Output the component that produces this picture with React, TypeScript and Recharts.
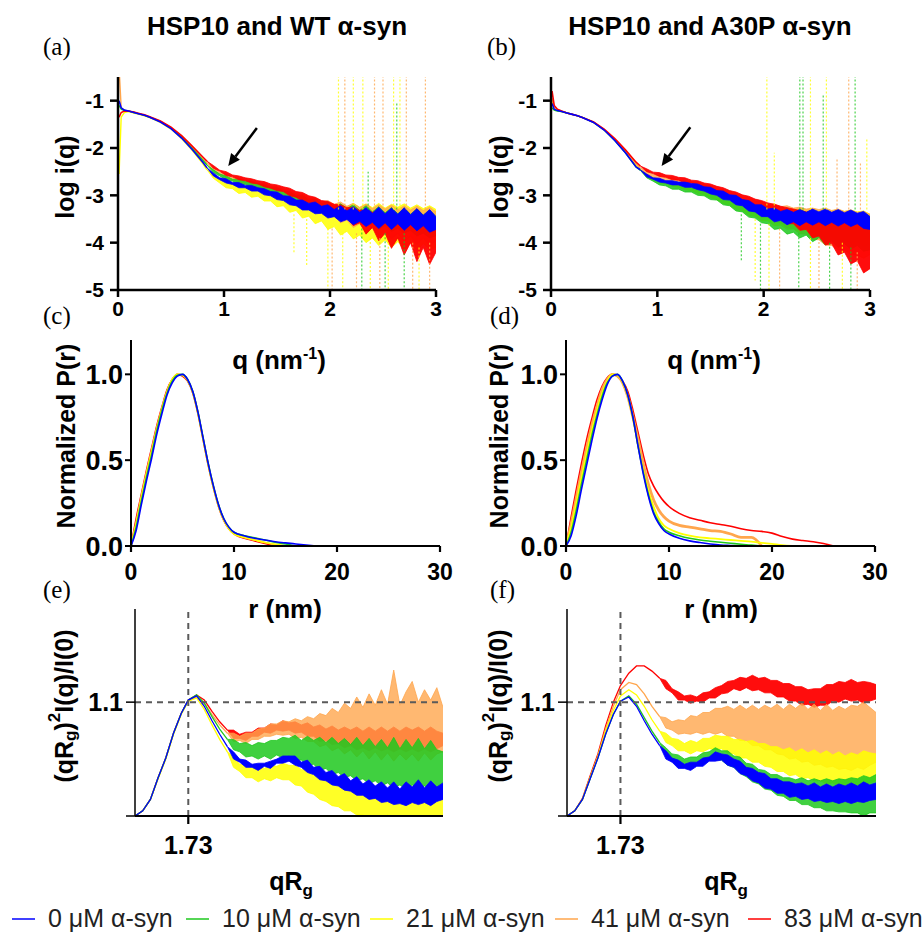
import React from 'react';
import { ComposedChart, Line, Area, XAxis, YAxis, ReferenceLine } from 'recharts';

const SANS = "'Liberation Sans', Arial, Helvetica, sans-serif";
const SERIF = "'Liberation Serif', 'Times New Roman', serif";

// legend / series
const SERIES_KEYS = ['c0', 'c10', 'c21', 'c41', 'c83'];
const SERIES_NAMES = ['0 μM α-syn', '10 μM α-syn', '21 μM α-syn', '41 μM α-syn', '83 μM α-syn'];
const SERIES_COLORS = ['#0000ff', '#1ec81e', '#ffff00', '#ffa64d', '#ff0000'];
const BAND_OPACITY = [1, 0.85, 0.85, 0.8, 0.95];

// ---------- (a)/(b): log i(q) vs q ----------
// smooth part (13 pts) followed by the noisy part (37 pts, from 0.84)
const Q_GRID = [
  0.01, 0.03, 0.06, 0.1, 0.15, 0.2, 0.25, 0.3, 0.4, 0.5, 0.6, 0.7, 0.8,
  0.84, 0.9, 0.96, 1.02, 1.08, 1.14, 1.2, 1.26, 1.32, 1.38,
  1.44, 1.5, 1.56, 1.62, 1.68, 1.74, 1.8, 1.86, 1.92, 1.98,
  2.04, 2.1, 2.16, 2.22, 2.28, 2.34, 2.4, 2.46, 2.52, 2.58,
  2.64, 2.7, 2.76, 2.82, 2.88, 2.94, 3.0,
];
const Q_BAND_START = 13;

// low-q curves
const WT_LOG_0 = [-1.0, -1.15, -1.2, -1.22, -1.25, -1.28, -1.31, -1.35, -1.45, -1.59, -1.79, -2.03, -2.3, -2.42];
const WT_LOG_10 = [-1.1, -1.18, -1.21, -1.22, -1.25, -1.28, -1.31, -1.35, -1.44, -1.58, -1.77, -2.01, -2.26, -2.36];
const WT_LOG_21 = [-2.55, -1.35, -1.25, -1.23, -1.26, -1.29, -1.32, -1.36, -1.46, -1.6, -1.8, -2.05, -2.33, -2.46];
const WT_LOG_41 = [-0.3, -1.15, -1.2, -1.22, -1.25, -1.28, -1.31, -1.35, -1.44, -1.57, -1.76, -1.99, -2.23, -2.32];
const WT_LOG_83 = [-1.35, -1.25, -1.22, -1.22, -1.24, -1.27, -1.3, -1.34, -1.43, -1.56, -1.74, -1.96, -2.19, -2.28];

// noisy spread (upper / lower edge) from q = 0.84
const WT_HI_0 = [
  -2.42, -2.53, -2.63, -2.65, -2.73, -2.73, -2.79, -2.79, -2.84, -2.86,
  -2.92, -2.93, -3.01, -3.02, -3.1, -3.1, -3.17, -3.14, -3.23, -3.2,
  -3.3, -3.22, -3.33, -3.24, -3.36, -3.26, -3.38, -3.25, -3.39, -3.27,
  -3.4, -3.26, -3.41, -3.28, -3.42, -3.3, -3.45,
];
const WT_LO_0 = [
  -2.42, -2.59, -2.67, -2.74, -2.77, -2.84, -2.84, -2.91, -2.91, -2.99,
  -3.01, -3.09, -3.11, -3.2, -3.22, -3.31, -3.31, -3.39, -3.38, -3.48,
  -3.45, -3.56, -3.51, -3.62, -3.55, -3.66, -3.57, -3.7, -3.58, -3.72,
  -3.6, -3.74, -3.62, -3.75, -3.64, -3.78, -3.72,
];
const WT_HI_10 = [
  -2.36, -2.46, -2.55, -2.59, -2.66, -2.66, -2.71, -2.71, -2.76, -2.78,
  -2.84, -2.84, -2.92, -2.92, -3.01, -3.0, -3.1, -3.08, -3.17, -3.14,
  -3.24, -3.18, -3.28, -3.2, -3.32, -3.22, -3.35, -3.24, -3.37, -3.26,
  -3.39, -3.27, -3.4, -3.29, -3.42, -3.32, -3.45,
];
const WT_LO_10 = [
  -2.36, -2.52, -2.59, -2.67, -2.7, -2.77, -2.77, -2.84, -2.84, -2.91,
  -2.92, -3.01, -3.02, -3.13, -3.12, -3.24, -3.22, -3.35, -3.32, -3.44,
  -3.41, -3.53, -3.49, -3.6, -3.55, -3.66, -3.6, -3.72, -3.64, -3.76,
  -3.7, -3.8, -3.74, -3.86, -3.8, -3.9, -3.85,
];
const WT_HI_21 = [
  -2.46, -2.57, -2.67, -2.7, -2.76, -2.77, -2.81, -2.82, -2.87, -2.88,
  -2.94, -2.95, -3.02, -3.03, -3.1, -3.1, -3.16, -3.14, -3.2, -3.17,
  -3.23, -3.18, -3.24, -3.17, -3.25, -3.18, -3.26, -3.17, -3.27, -3.19,
  -3.25, -3.18, -3.27, -3.2, -3.28, -3.22, -3.3,
];
const WT_LO_21 = [
  -2.46, -2.64, -2.74, -2.84, -2.86, -2.96, -2.94, -3.04, -3.02, -3.12,
  -3.12, -3.24, -3.22, -3.36, -3.32, -3.48, -3.44, -3.6, -3.54, -3.72,
  -3.66, -3.84, -3.76, -3.92, -3.84, -4.0, -3.9, -4.06, -3.94, -4.1,
  -3.98, -4.14, -4.0, -4.16, -4.02, -4.14, -4.1,
];
const WT_HI_41 = [
  -2.32, -2.42, -2.51, -2.55, -2.62, -2.64, -2.68, -2.69, -2.74, -2.75,
  -2.81, -2.82, -2.88, -2.89, -2.97, -2.98, -3.06, -3.05, -3.13, -3.11,
  -3.19, -3.14, -3.23, -3.17, -3.26, -3.19, -3.28, -3.2, -3.29, -3.21,
  -3.3, -3.22, -3.31, -3.23, -3.32, -3.25, -3.35,
];
const WT_LO_41 = [
  -2.32, -2.48, -2.55, -2.63, -2.67, -2.73, -2.75, -2.8, -2.82, -2.88,
  -2.91, -2.98, -3.0, -3.09, -3.11, -3.21, -3.22, -3.34, -3.33, -3.46,
  -3.43, -3.58, -3.52, -3.68, -3.6, -3.78, -3.68, -3.86, -3.74, -3.92,
  -3.8, -3.98, -3.86, -4.04, -3.9, -4.08, -3.95,
];
const WT_HI_83 = [
  -2.28, -2.37, -2.47, -2.5, -2.57, -2.59, -2.63, -2.65, -2.69, -2.71,
  -2.76, -2.78, -2.82, -2.85, -2.92, -2.94, -3.01, -3.04, -3.11, -3.13,
  -3.19, -3.2, -3.26, -3.25, -3.32, -3.3, -3.36, -3.34, -3.41, -3.38,
  -3.45, -3.42, -3.5, -3.47, -3.56, -3.52, -3.62,
];
const WT_LO_83 = [
  -2.28, -2.43, -2.49, -2.58, -2.61, -2.67, -2.69, -2.74, -2.76, -2.82,
  -2.85, -2.9, -2.92, -3.01, -3.04, -3.12, -3.16, -3.25, -3.28, -3.37,
  -3.38, -3.5, -3.47, -3.64, -3.58, -3.82, -3.68, -3.96, -3.8, -4.12,
  -3.9, -4.26, -4.0, -4.4, -4.1, -4.46, -4.2,
];

const A30P_LOG_0 = [-1.06, -1.18, -1.21, -1.23, -1.26, -1.29, -1.32, -1.36, -1.46, -1.62, -1.84, -2.1, -2.4, -2.46];
const A30P_LOG_10 = [-1.15, -1.2, -1.22, -1.23, -1.26, -1.29, -1.32, -1.36, -1.46, -1.62, -1.84, -2.1, -2.4, -2.47];
const A30P_LOG_21 = [-1.0, -1.17, -1.21, -1.23, -1.26, -1.29, -1.32, -1.36, -1.46, -1.62, -1.83, -2.08, -2.37, -2.45];
const A30P_LOG_41 = [-0.95, -1.13, -1.19, -1.22, -1.26, -1.29, -1.32, -1.36, -1.45, -1.61, -1.82, -2.07, -2.34, -2.42];
const A30P_LOG_83 = [-0.8, -1.1, -1.18, -1.22, -1.26, -1.29, -1.32, -1.36, -1.45, -1.6, -1.8, -2.04, -2.3, -2.38];

const A30P_HI_0 = [
  -2.46, -2.55, -2.63, -2.64, -2.69, -2.69, -2.72, -2.72, -2.75, -2.76,
  -2.82, -2.83, -2.9, -2.91, -2.99, -3.0, -3.09, -3.11, -3.2, -3.2,
  -3.29, -3.27, -3.34, -3.3, -3.36, -3.3, -3.36, -3.29, -3.35, -3.29,
  -3.36, -3.3, -3.37, -3.31, -3.38, -3.34, -3.45,
];
const A30P_LO_0 = [
  -2.46, -2.61, -2.66, -2.72, -2.74, -2.78, -2.78, -2.83, -2.83, -2.88,
  -2.91, -2.97, -3.0, -3.09, -3.1, -3.2, -3.22, -3.33, -3.35, -3.45,
  -3.45, -3.56, -3.53, -3.62, -3.56, -3.64, -3.56, -3.63, -3.56, -3.64,
  -3.57, -3.65, -3.58, -3.66, -3.6, -3.7, -3.72,
];
const A30P_HI_10 = [
  -2.47, -2.57, -2.65, -2.68, -2.73, -2.74, -2.78, -2.79, -2.84, -2.85,
  -2.9, -2.92, -2.98, -3.0, -3.07, -3.09, -3.16, -3.18, -3.24, -3.24,
  -3.3, -3.27, -3.33, -3.28, -3.35, -3.3, -3.36, -3.31, -3.37, -3.32,
  -3.38, -3.33, -3.39, -3.34, -3.4, -3.36, -3.45,
];
const A30P_LO_10 = [
  -2.47, -2.63, -2.7, -2.78, -2.8, -2.87, -2.87, -2.93, -2.93, -3.0,
  -3.01, -3.09, -3.1, -3.2, -3.22, -3.33, -3.35, -3.46, -3.48, -3.58,
  -3.6, -3.72, -3.7, -3.82, -3.78, -3.9, -3.84, -3.98, -3.9, -4.05,
  -3.96, -4.1, -4.02, -4.14, -4.06, -4.18, -4.15,
];
const A30P_HI_21 = [
  -2.45, -2.54, -2.62, -2.65, -2.7, -2.7, -2.75, -2.75, -2.8, -2.81,
  -2.87, -2.88, -2.95, -2.97, -3.03, -3.06, -3.12, -3.14, -3.2, -3.21,
  -3.26, -3.24, -3.29, -3.26, -3.3, -3.27, -3.31, -3.28, -3.32, -3.29,
  -3.33, -3.3, -3.34, -3.31, -3.35, -3.33, -3.4,
];
const A30P_LO_21 = [
  -2.45, -2.61, -2.67, -2.74, -2.76, -2.81, -2.83, -2.88, -2.9, -2.96,
  -2.99, -3.05, -3.09, -3.17, -3.2, -3.3, -3.32, -3.42, -3.44, -3.54,
  -3.54, -3.64, -3.63, -3.72, -3.71, -3.8, -3.78, -3.88, -3.84, -3.92,
  -3.88, -3.98, -3.94, -4.02, -3.98, -4.08, -4.05,
];
const A30P_HI_41 = [
  -2.42, -2.49, -2.56, -2.58, -2.63, -2.63, -2.68, -2.68, -2.72, -2.73,
  -2.78, -2.8, -2.86, -2.88, -2.95, -2.96, -3.04, -3.05, -3.12, -3.13,
  -3.19, -3.18, -3.24, -3.22, -3.27, -3.25, -3.29, -3.27, -3.3, -3.27,
  -3.32, -3.29, -3.34, -3.31, -3.36, -3.34, -3.4,
];
const A30P_LO_41 = [
  -2.42, -2.56, -2.61, -2.67, -2.69, -2.74, -2.75, -2.79, -2.81, -2.86,
  -2.89, -2.95, -2.98, -3.06, -3.1, -3.18, -3.22, -3.32, -3.35, -3.44,
  -3.46, -3.57, -3.58, -3.69, -3.7, -3.81, -3.82, -3.93, -3.94, -4.05,
  -4.06, -4.15, -4.16, -4.25, -4.26, -4.33, -4.25,
];
const A30P_HI_83 = [
  -2.38, -2.44, -2.51, -2.52, -2.57, -2.58, -2.62, -2.63, -2.68, -2.69,
  -2.74, -2.76, -2.81, -2.84, -2.9, -2.93, -2.99, -3.02, -3.08, -3.11,
  -3.16, -3.19, -3.23, -3.26, -3.29, -3.32, -3.35, -3.37, -3.39, -3.41,
  -3.44, -3.46, -3.49, -3.51, -3.55, -3.57, -3.65,
];
const A30P_LO_83 = [
  -2.38, -2.5, -2.54, -2.6, -2.62, -2.67, -2.68, -2.74, -2.74, -2.8,
  -2.83, -2.88, -2.92, -2.98, -3.03, -3.09, -3.14, -3.21, -3.26, -3.33,
  -3.36, -3.47, -3.48, -3.6, -3.6, -3.74, -3.72, -3.9, -3.86, -4.05,
  -4.02, -4.26, -4.2, -4.45, -4.38, -4.64, -4.55,
];

// outliers: [q, from, to]
const WT_SPIKES_10 = [[2.63, -3.3, -1.05], [2.36, -3.3, -2.5], [2.3, -3.7, -5.5], [2.52, -3.8, -5.5], [2.7, -3.8, -5.5]];
const WT_SPIKES_21 = [
  [2.08, -3.3, -0.3], [2.22, -3.3, -0.3], [2.31, -3.3, -0.3], [2.6, -3.3, -0.3], [2.66, -3.3, -0.3],
  [1.66, -3.4, -4.2], [1.78, -3.5, -4.5], [1.98, -3.7, -5.5], [2.12, -3.8, -5.5], [2.38, -3.9, -5.5],
  [2.55, -4.0, -5.5], [2.84, -4.1, -5.5],
];
const WT_SPIKES_41 = [
  [2.14, -3.3, -0.3], [2.42, -3.3, -0.3], [2.5, -3.3, -0.3], [2.72, -3.3, -0.3], [2.9, -3.3, -0.3],
  [2.02, -3.7, -5.5], [2.25, -3.8, -5.5], [2.47, -3.9, -5.5], [2.78, -4.0, -5.5], [2.94, -4.0, -5.5],
];
const A30P_SPIKES_10 = [
  [2.34, -3.3, -0.3], [2.37, -3.3, -0.3], [2.56, -3.3, -0.85], [2.86, -3.3, -0.3],
  [1.79, -3.4, -4.4], [1.97, -3.6, -5.5], [2.33, -3.8, -5.5], [2.62, -4.0, -5.5], [2.82, -4.1, -5.5],
];
const A30P_SPIKES_21 = [
  [2.03, -3.3, -0.3], [2.1, -3.3, -2.1], [2.44, -3.3, -0.3], [2.59, -3.3, -0.3], [2.97, -3.3, -1.8],
  [1.92, -3.5, -4.8], [2.05, -3.6, -5.5], [2.44, -3.9, -5.5], [2.74, -4.0, -5.5],
];
const A30P_SPIKES_41 = [
  [2.8, -3.3, -0.3], [2.69, -3.3, -2.2], [2.91, -3.3, -2.3], [2.15, -3.7, -5.5], [2.52, -3.9, -5.5], [2.88, -4.2, -5.5],
];

// ---------- (c)/(d): normalized P(r) ----------
const R_GRID = [
  0, 0.5, 1, 1.5, 2, 2.5, 3, 3.5, 4, 4.5, 5, 5.5, 6, 6.5, 7, 7.5, 8, 8.5, 9, 9.5,
  10, 11, 12, 13, 14, 15, 16, 17, 18, 19, 20, 21, 22, 23, 24, 25, 26,
];
const WT_PR_0 = [0, 0.09, 0.24, 0.38, 0.51, 0.65, 0.77, 0.88, 0.95, 0.99, 1.0, 0.97, 0.9, 0.78, 0.63, 0.48, 0.35, 0.24, 0.16, 0.11, 0.08, 0.06, 0.045, 0.035, 0.025, 0.018, 0.012, 0.006, 0];
const WT_PR_10 = [0, 0.11, 0.26, 0.4, 0.53, 0.67, 0.79, 0.89, 0.96, 0.995, 1.0, 0.97, 0.9, 0.78, 0.63, 0.48, 0.35, 0.24, 0.16, 0.11, 0.08, 0.06, 0.048, 0.035, 0.022, 0.012, 0];
const WT_PR_21 = [0, 0.13, 0.28, 0.42, 0.55, 0.68, 0.8, 0.9, 0.97, 1.0, 0.995, 0.965, 0.895, 0.775, 0.625, 0.475, 0.345, 0.235, 0.155, 0.1, 0.07, 0.05, 0.035, 0.02, 0.01, 0];
const WT_PR_41 = [0, 0.14, 0.29, 0.43, 0.56, 0.69, 0.8, 0.9, 0.97, 1.0, 0.995, 0.965, 0.895, 0.775, 0.62, 0.47, 0.34, 0.23, 0.15, 0.1, 0.07, 0.05, 0.035, 0.02, 0.008, 0];
const WT_PR_83 = [0, 0.16, 0.3, 0.44, 0.57, 0.7, 0.81, 0.91, 0.97, 1.0, 0.99, 0.96, 0.89, 0.77, 0.62, 0.47, 0.34, 0.23, 0.15, 0.1, 0.07, 0.045, 0.03, 0.015, 0];

const A30P_PR_0 = [0, 0.06, 0.18, 0.33, 0.47, 0.61, 0.74, 0.85, 0.94, 0.99, 1.0, 0.96, 0.88, 0.75, 0.58, 0.42, 0.29, 0.19, 0.13, 0.09, 0.07, 0.045, 0.03, 0.02, 0.012, 0.006, 0.003, 0];
const A30P_PR_10 = [0, 0.08, 0.21, 0.36, 0.5, 0.64, 0.76, 0.87, 0.95, 0.99, 1.0, 0.96, 0.88, 0.75, 0.58, 0.43, 0.3, 0.2, 0.14, 0.1, 0.08, 0.06, 0.045, 0.035, 0.028, 0.022, 0.016, 0.01, 0.005, 0];
const A30P_PR_21 = [0, 0.11, 0.25, 0.4, 0.54, 0.67, 0.79, 0.89, 0.96, 1.0, 0.995, 0.955, 0.875, 0.745, 0.585, 0.44, 0.32, 0.23, 0.16, 0.12, 0.1, 0.075, 0.06, 0.05, 0.045, 0.04, 0.035, 0.03, 0.025, 0.018, 0.012, 0.005, 0];
const A30P_PR_41 = [0, 0.13, 0.28, 0.43, 0.57, 0.7, 0.81, 0.91, 0.97, 1.0, 0.99, 0.95, 0.87, 0.75, 0.62, 0.48, 0.36, 0.27, 0.21, 0.17, 0.145, 0.12, 0.11, 0.1, 0.09, 0.085, 0.07, 0.05, 0.05, 0];
const A30P_PR_83 = [0, 0.17, 0.33, 0.48, 0.62, 0.74, 0.85, 0.93, 0.98, 1.0, 0.99, 0.96, 0.9, 0.79, 0.66, 0.53, 0.42, 0.35, 0.3, 0.26, 0.23, 0.19, 0.165, 0.15, 0.135, 0.125, 0.115, 0.1, 0.09, 0.085, 0.075, 0.055, 0.04, 0.032, 0.025, 0.015, 0];

// ---------- (e)/(f): dimensionless Kratky ----------
const QRG_GRID = [
  0, 0.25, 0.5, 0.75, 1.0, 1.25, 1.5, 1.73, 2.0, 2.25, 2.5, 2.75,
  3.0, 3.2, 3.4, 3.6, 3.8, 4.0, 4.2, 4.4, 4.6, 4.8,
  5.0, 5.2, 5.4, 5.6, 5.8, 6.0, 6.2, 6.4, 6.6, 6.8,
  7.0, 7.2, 7.4, 7.6, 7.8, 8.0, 8.2, 8.4, 8.6, 8.8,
  9.0, 9.2, 9.4, 9.6, 9.8, 10.0,
];
const QRG_BAND_START = 12;

const WT_KR_0 = [0, 0.05, 0.16, 0.37, 0.56, 0.8, 0.99, 1.12, 1.16, 1.06, 0.92, 0.79, 0.67];
const WT_KR_10 = [0, 0.05, 0.16, 0.37, 0.56, 0.8, 0.99, 1.12, 1.17, 1.09, 0.96, 0.84, 0.74];
const WT_KR_21 = [0, 0.05, 0.16, 0.36, 0.55, 0.79, 0.98, 1.11, 1.14, 1.03, 0.88, 0.74, 0.62];
const WT_KR_41 = [0, 0.05, 0.16, 0.37, 0.56, 0.8, 0.99, 1.11, 1.15, 1.09, 0.98, 0.88, 0.8];
const WT_KR_83 = [0, 0.05, 0.16, 0.37, 0.56, 0.8, 0.99, 1.12, 1.17, 1.12, 1.01, 0.91, 0.83];

const WT_KHI_0 = [
  0.67, 0.62, 0.55, 0.54, 0.5, 0.51, 0.51, 0.53, 0.55, 0.58,
  0.58, 0.58, 0.52, 0.54, 0.47, 0.48, 0.42, 0.44, 0.38, 0.41,
  0.34, 0.38, 0.31, 0.35, 0.29, 0.33, 0.27, 0.33, 0.26, 0.33,
  0.28, 0.35, 0.27, 0.34, 0.28, 0.32,
];
const WT_KLO_0 = [
  0.67, 0.55, 0.52, 0.47, 0.47, 0.44, 0.48, 0.46, 0.51, 0.51,
  0.53, 0.49, 0.47, 0.42, 0.4, 0.35, 0.34, 0.3, 0.29, 0.25,
  0.24, 0.2, 0.2, 0.16, 0.17, 0.13, 0.14, 0.11, 0.12, 0.1,
  0.13, 0.11, 0.13, 0.1, 0.14, 0.16,
];
const WT_KHI_10 = [
  0.74, 0.74, 0.7, 0.71, 0.68, 0.71, 0.7, 0.73, 0.73, 0.76,
  0.75, 0.78, 0.73, 0.77, 0.73, 0.76, 0.71, 0.76, 0.7, 0.75,
  0.69, 0.76, 0.68, 0.75, 0.67, 0.74, 0.66, 0.76, 0.65, 0.74,
  0.66, 0.75, 0.65, 0.73, 0.64, 0.62,
];
const WT_KLO_10 = [
  0.74, 0.64, 0.62, 0.57, 0.58, 0.55, 0.58, 0.55, 0.59, 0.56,
  0.58, 0.54, 0.54, 0.49, 0.5, 0.44, 0.46, 0.4, 0.42, 0.37,
  0.39, 0.34, 0.36, 0.31, 0.34, 0.29, 0.32, 0.27, 0.3, 0.26,
  0.3, 0.25, 0.29, 0.24, 0.28, 0.32,
];
const WT_KHI_21 = [
  0.62, 0.57, 0.5, 0.5, 0.47, 0.48, 0.46, 0.49, 0.48, 0.51,
  0.49, 0.49, 0.45, 0.44, 0.4, 0.39, 0.35, 0.35, 0.32, 0.32,
  0.29, 0.3, 0.26, 0.28, 0.25, 0.27, 0.23, 0.26, 0.22, 0.25,
  0.22, 0.26, 0.21, 0.25, 0.21, 0.22,
];
const WT_KLO_21 = [
  0.62, 0.47, 0.43, 0.37, 0.37, 0.33, 0.36, 0.34, 0.37, 0.35,
  0.35, 0.3, 0.29, 0.23, 0.21, 0.16, 0.14, 0.1, 0.09, 0.05,
  0.05, 0.01, 0.01, -0.02, 0.0, -0.02, 0.01, -0.02, 0.0, -0.02,
  0.0, -0.02, 0.0, -0.02, 0.0, 0.0,
];
const WT_KHI_41 = [
  0.8, 0.8, 0.77, 0.8, 0.8, 0.84, 0.85, 0.89, 0.89, 0.92,
  0.91, 0.94, 0.92, 0.96, 0.94, 0.99, 0.97, 1.04, 1.0, 1.09,
  1.04, 1.15, 1.05, 1.18, 1.07, 1.22, 1.08, 1.41, 1.07, 1.2,
  1.3, 1.1, 1.22, 1.12, 1.24, 1.05,
];
const WT_KLO_41 = [
  0.8, 0.72, 0.73, 0.7, 0.74, 0.74, 0.77, 0.77, 0.79, 0.78,
  0.79, 0.75, 0.76, 0.72, 0.72, 0.67, 0.69, 0.63, 0.66, 0.6,
  0.64, 0.57, 0.63, 0.55, 0.62, 0.54, 0.61, 0.53, 0.6, 0.54,
  0.6, 0.53, 0.61, 0.54, 0.6, 0.62,
];
const WT_KHI_83 = [
  0.83, 0.83, 0.79, 0.81, 0.81, 0.85, 0.85, 0.89, 0.88, 0.92,
  0.9, 0.91, 0.88, 0.9, 0.86, 0.88, 0.84, 0.87, 0.83, 0.86,
  0.83, 0.86, 0.82, 0.86, 0.82, 0.86, 0.82, 0.86, 0.82, 0.86,
  0.83, 0.86, 0.82, 0.86, 0.82, 0.8,
];
const WT_KLO_83 = [
  0.83, 0.75, 0.75, 0.73, 0.77, 0.77, 0.81, 0.8, 0.83, 0.82,
  0.83, 0.8, 0.81, 0.77, 0.77, 0.72, 0.73, 0.69, 0.7, 0.66,
  0.68, 0.64, 0.66, 0.63, 0.66, 0.63, 0.65, 0.62, 0.65, 0.62,
  0.65, 0.62, 0.65, 0.62, 0.65, 0.68,
];

const A30P_KR_0 = [0, 0.05, 0.16, 0.36, 0.56, 0.79, 0.98, 1.11, 1.15, 1.06, 0.92, 0.79, 0.68];
const A30P_KR_10 = [0, 0.05, 0.16, 0.36, 0.56, 0.79, 0.98, 1.11, 1.16, 1.08, 0.95, 0.82, 0.71];
const A30P_KR_21 = [0, 0.05, 0.16, 0.37, 0.57, 0.82, 1.02, 1.16, 1.22, 1.17, 1.06, 0.93, 0.82];
const A30P_KR_41 = [0, 0.05, 0.16, 0.37, 0.58, 0.84, 1.06, 1.22, 1.29, 1.27, 1.18, 1.06, 0.96];
const A30P_KR_83 = [0, 0.05, 0.17, 0.39, 0.6, 0.87, 1.1, 1.26, 1.38, 1.45, 1.45, 1.4, 1.33];

const A30P_KHI_0 = [
  0.68, 0.63, 0.56, 0.54, 0.5, 0.52, 0.52, 0.56, 0.57, 0.62,
  0.6, 0.59, 0.55, 0.53, 0.47, 0.46, 0.42, 0.41, 0.36, 0.36,
  0.33, 0.33, 0.31, 0.32, 0.29, 0.32, 0.28, 0.31, 0.28, 0.31,
  0.29, 0.32, 0.29, 0.33, 0.3, 0.32,
];
const A30P_KLO_0 = [
  0.68, 0.55, 0.52, 0.46, 0.46, 0.44, 0.48, 0.48, 0.53, 0.53,
  0.54, 0.49, 0.47, 0.41, 0.39, 0.34, 0.32, 0.27, 0.26, 0.22,
  0.22, 0.18, 0.19, 0.16, 0.17, 0.14, 0.15, 0.13, 0.14, 0.12,
  0.14, 0.12, 0.14, 0.13, 0.15, 0.16,
];
const A30P_KHI_10 = [
  0.71, 0.66, 0.6, 0.59, 0.55, 0.57, 0.57, 0.61, 0.62, 0.66,
  0.63, 0.63, 0.58, 0.57, 0.51, 0.5, 0.45, 0.44, 0.4, 0.4,
  0.37, 0.37, 0.35, 0.37, 0.34, 0.36, 0.34, 0.36, 0.34, 0.36,
  0.35, 0.37, 0.36, 0.39, 0.37, 0.4,
];
const A30P_KLO_10 = [
  0.71, 0.57, 0.54, 0.49, 0.49, 0.47, 0.51, 0.5, 0.54, 0.54,
  0.54, 0.49, 0.47, 0.41, 0.38, 0.33, 0.31, 0.26, 0.25, 0.2,
  0.19, 0.15, 0.15, 0.11, 0.11, 0.08, 0.08, 0.05, 0.05, 0.04,
  0.04, 0.03, 0.03, 0.0, 0.03, 0.03,
];
const A30P_KHI_21 = [
  0.82, 0.8, 0.75, 0.74, 0.7, 0.73, 0.71, 0.75, 0.75, 0.78,
  0.77, 0.77, 0.74, 0.74, 0.72, 0.73, 0.7, 0.7, 0.67, 0.67,
  0.64, 0.66, 0.62, 0.65, 0.61, 0.64, 0.6, 0.63, 0.59, 0.62,
  0.58, 0.61, 0.59, 0.63, 0.61, 0.6,
];
const A30P_KLO_21 = [
  0.82, 0.71, 0.68, 0.63, 0.63, 0.6, 0.63, 0.62, 0.65, 0.64,
  0.65, 0.61, 0.6, 0.56, 0.56, 0.52, 0.52, 0.48, 0.47, 0.43,
  0.43, 0.39, 0.4, 0.36, 0.37, 0.34, 0.34, 0.31, 0.32, 0.29,
  0.3, 0.28, 0.3, 0.29, 0.32, 0.34,
];
const A30P_KHI_41 = [
  0.96, 0.95, 0.91, 0.93, 0.92, 0.97, 0.96, 1.0, 1.0, 1.04,
  1.04, 1.06, 1.03, 1.07, 1.03, 1.07, 1.03, 1.07, 1.04, 1.08,
  1.03, 1.08, 1.04, 1.09, 1.03, 1.08, 1.02, 1.08, 1.02, 1.06,
  1.03, 1.07, 1.06, 1.1, 1.05, 1.0,
];
const A30P_KLO_41 = [
  0.96, 0.85, 0.83, 0.79, 0.8, 0.79, 0.81, 0.79, 0.81, 0.79,
  0.81, 0.77, 0.77, 0.73, 0.73, 0.68, 0.68, 0.64, 0.64, 0.6,
  0.59, 0.55, 0.56, 0.52, 0.53, 0.49, 0.5, 0.47, 0.48, 0.45,
  0.46, 0.44, 0.47, 0.45, 0.49, 0.52,
];
const A30P_KHI_83 = [
  1.33, 1.31, 1.23, 1.2, 1.16, 1.17, 1.15, 1.19, 1.2, 1.24,
  1.26, 1.3, 1.31, 1.34, 1.33, 1.36, 1.33, 1.34, 1.31, 1.31,
  1.28, 1.28, 1.25, 1.25, 1.22, 1.23, 1.23, 1.27, 1.27, 1.3,
  1.29, 1.32, 1.29, 1.3, 1.29, 1.27,
];
const A30P_KLO_83 = [
  1.33, 1.23, 1.19, 1.12, 1.12, 1.09, 1.11, 1.1, 1.14, 1.14,
  1.18, 1.19, 1.23, 1.21, 1.24, 1.21, 1.22, 1.19, 1.19, 1.15,
  1.15, 1.11, 1.11, 1.07, 1.08, 1.05, 1.07, 1.07, 1.11, 1.1,
  1.13, 1.11, 1.12, 1.09, 1.11, 1.13,
];

type Row = Record<string, number | null | number[]>;

function buildRows(
  xs: number[],
  centers: number[][],
  his?: number[][],
  los?: number[][],
  bandStart = 0,
): Row[] {
  return xs.map((x, i) => {
    const r: Row = { x };
    SERIES_KEYS.forEach((k, j) => {
      const c = centers[j][i];
      r[k] = c === undefined ? null : c;
      const bi = i - bandStart;
      if (his && los && bi >= 0 && bi < his[j].length) r[k + 'b'] = [los[j][bi], his[j][bi]];
      else r[k + 'b'] = null;
    });
    return r;
  });
}

function spikeRows(list: number[][]): Row[] {
  const out: Row[] = [];
  list.forEach(([q, from, to]) => {
    out.push({ x: q, s: from }, { x: q, s: to }, { x: q, s: null });
  });
  return out;
}

const rowsA = buildRows(
  Q_GRID,
  [WT_LOG_0, WT_LOG_10, WT_LOG_21, WT_LOG_41, WT_LOG_83],
  [WT_HI_0, WT_HI_10, WT_HI_21, WT_HI_41, WT_HI_83],
  [WT_LO_0, WT_LO_10, WT_LO_21, WT_LO_41, WT_LO_83],
  Q_BAND_START,
);
const rowsB = buildRows(
  Q_GRID,
  [A30P_LOG_0, A30P_LOG_10, A30P_LOG_21, A30P_LOG_41, A30P_LOG_83],
  [A30P_HI_0, A30P_HI_10, A30P_HI_21, A30P_HI_41, A30P_HI_83],
  [A30P_LO_0, A30P_LO_10, A30P_LO_21, A30P_LO_41, A30P_LO_83],
  Q_BAND_START,
);
const rowsC = buildRows(R_GRID, [WT_PR_0, WT_PR_10, WT_PR_21, WT_PR_41, WT_PR_83]);
const rowsD = buildRows(R_GRID, [A30P_PR_0, A30P_PR_10, A30P_PR_21, A30P_PR_41, A30P_PR_83]);
const rowsE = buildRows(
  QRG_GRID,
  [WT_KR_0, WT_KR_10, WT_KR_21, WT_KR_41, WT_KR_83],
  [WT_KHI_0, WT_KHI_10, WT_KHI_21, WT_KHI_41, WT_KHI_83],
  [WT_KLO_0, WT_KLO_10, WT_KLO_21, WT_KLO_41, WT_KLO_83],
  QRG_BAND_START,
);
const rowsF = buildRows(
  QRG_GRID,
  [A30P_KR_0, A30P_KR_10, A30P_KR_21, A30P_KR_41, A30P_KR_83],
  [A30P_KHI_0, A30P_KHI_10, A30P_KHI_21, A30P_KHI_41, A30P_KHI_83],
  [A30P_KLO_0, A30P_KLO_10, A30P_KLO_21, A30P_KLO_41, A30P_KLO_83],
  QRG_BAND_START,
);

const spikesA = [
  { idx: 1, rows: spikeRows(WT_SPIKES_10) },
  { idx: 2, rows: spikeRows(WT_SPIKES_21) },
  { idx: 3, rows: spikeRows(WT_SPIKES_41) },
];
const spikesB = [
  { idx: 1, rows: spikeRows(A30P_SPIKES_10) },
  { idx: 2, rows: spikeRows(A30P_SPIKES_21) },
  { idx: 3, rows: spikeRows(A30P_SPIKES_41) },
];

interface SeriesDef {
  idx: number;
  width: number;
  band?: boolean;
}

interface PanelProps {
  left: number;
  top: number;
  width: number;
  height: number;
  margin: { top: number; right: number; bottom: number; left: number };
  data: Row[];
  xDomain: [number, number];
  yDomain: [number, number];
  xTicks: number[];
  yTicks: number[];
  xFmt: (v: number) => string;
  yFmt: (v: number) => string;
  xFont: number;
  yFont: number;
  xTick: [number, number];
  yTick: [number, number];
  xAxisW: number;
  yAxisW: number;
  curve: 'linear' | 'monotone';
  series: SeriesDef[];
  spikes?: { idx: number; rows: Row[] }[];
  children?: React.ReactNode;
}

const tickStyle = (fs: number) => ({ fill: '#000', fontSize: fs, fontWeight: 700, fontFamily: SANS });

function Panel(p: PanelProps) {
  return (
    <div style={{ position: 'absolute', left: p.left, top: p.top }}>
      <ComposedChart width={p.width} height={p.height} data={p.data} margin={p.margin}>
        <XAxis
          dataKey="x"
          type="number"
          domain={p.xDomain}
          ticks={p.xTicks}
          interval={0}
          allowDataOverflow
          tickFormatter={p.xFmt}
          tick={tickStyle(p.xFont)}
          tickSize={p.xTick[0]}
          tickMargin={p.xTick[1]}
          height={30}
          axisLine={{ stroke: '#000', strokeWidth: p.xAxisW }}
          tickLine={{ stroke: '#000', strokeWidth: p.xAxisW }}
        />
        <YAxis
          type="number"
          domain={p.yDomain}
          ticks={p.yTicks}
          interval={0}
          allowDataOverflow
          tickFormatter={p.yFmt}
          tick={tickStyle(p.yFont)}
          tickSize={p.yTick[0]}
          tickMargin={p.yTick[1]}
          width={60}
          axisLine={{ stroke: '#000', strokeWidth: p.yAxisW }}
          tickLine={{ stroke: '#000', strokeWidth: p.yAxisW }}
        />
        {(p.spikes || []).map((s) => (
          <Line
            key={'spk' + s.idx}
            data={s.rows}
            dataKey="s"
            type="linear"
            stroke={SERIES_COLORS[s.idx]}
            strokeWidth={1.2}
            strokeDasharray="2 2"
            strokeOpacity={0.8}
            dot={false}
            activeDot={false}
            isAnimationActive={false}
          />
        ))}
        {p.series.map((s) => [
          s.band ? (
            <Area
              key={SERIES_KEYS[s.idx] + 'b'}
              dataKey={SERIES_KEYS[s.idx] + 'b'}
              type="linear"
              stroke={SERIES_COLORS[s.idx]}
              strokeWidth={0.8}
              fill={SERIES_COLORS[s.idx]}
              fillOpacity={BAND_OPACITY[s.idx]}
              dot={false}
              activeDot={false}
              isAnimationActive={false}
            />
          ) : null,
          <Line
            key={SERIES_KEYS[s.idx]}
            dataKey={SERIES_KEYS[s.idx]}
            type={p.curve}
            stroke={SERIES_COLORS[s.idx]}
            strokeWidth={s.width}
            dot={false}
            activeDot={false}
            isAnimationActive={false}
          />,
        ])}
        {p.children}
      </ComposedChart>
    </div>
  );
}

// arrow drawn along a reference segment, tip at the second point
function Arrow(props: any) {
  const { x1, y1, x2, y2 } = props;
  if ([x1, y1, x2, y2].some((v) => typeof v !== 'number' || isNaN(v))) return <g />;
  const dx = x2 - x1;
  const dy = y2 - y1;
  const len = Math.hypot(dx, dy) || 1;
  const ux = dx / len;
  const uy = dy / len;
  const head = 12;
  const half = 5.5;
  const bx = x2 - ux * head;
  const by = y2 - uy * head;
  const pts = `${x2},${y2} ${bx - uy * half},${by + ux * half} ${bx + uy * half},${by - ux * half}`;
  return (
    <g>
      <line x1={x1} y1={y1} x2={bx} y2={by} stroke="#000" strokeWidth={2.5} />
      <polygon points={pts} fill="#000" />
    </g>
  );
}

const logSeries: SeriesDef[] = [
  { idx: 2, width: 1.4, band: true },
  { idx: 3, width: 1.4, band: true },
  { idx: 1, width: 1.4, band: true },
  { idx: 4, width: 1.6, band: true },
  { idx: 0, width: 1.6, band: true },
];
const prSeriesC: SeriesDef[] = [
  { idx: 4, width: 1.6 },
  { idx: 3, width: 1.6 },
  { idx: 2, width: 1.6 },
  { idx: 1, width: 1.6 },
  { idx: 0, width: 1.6 },
];
const prSeriesD: SeriesDef[] = [
  { idx: 4, width: 1.6 },
  { idx: 3, width: 2.8 },
  { idx: 2, width: 1.8 },
  { idx: 1, width: 1.6 },
  { idx: 0, width: 1.6 },
];
const krSeries: SeriesDef[] = [
  { idx: 4, width: 1.3, band: true },
  { idx: 3, width: 1.3, band: true },
  { idx: 2, width: 1.3, band: true },
  { idx: 1, width: 1.3, band: true },
  { idx: 0, width: 1.3, band: true },
];

const fmtInt = (v: number) => String(v);
const fmtOne = (v: number) => v.toFixed(1);
const fmtKrY = (v: number) => (v === 0 ? '' : v.toFixed(1));
const fmtKrX = (v: number) => v.toFixed(2);

const dashRef = { stroke: '#5a5a5a', strokeWidth: 2, strokeDasharray: '6 5' };

function Labels() {
  const bold = { fontFamily: SANS, fontWeight: 700, fill: '#000' } as const;
  const serif = { fontFamily: SERIF, fontSize: 25, fill: '#000' } as const;
  const legendStarts = [12, 186, 370, 555, 748];
  return (
    <svg width={922} height={933} style={{ position: 'absolute', left: 0, top: 0, pointerEvents: 'none' }}>
      <text x={277} y={26} textAnchor="middle" dominantBaseline="central" fontSize={26} {...bold}>
        HSP10 and WT α-syn
      </text>
      <text x={710} y={26} textAnchor="middle" dominantBaseline="central" fontSize={26} {...bold}>
        HSP10 and A30P α-syn
      </text>

      <text x={43} y={55} {...serif}>(a)</text>
      <text x={487} y={55} {...serif}>(b)</text>
      <text x={43} y={324} {...serif}>(c)</text>
      <text x={490} y={324} {...serif}>(d)</text>
      <text x={43} y={598} {...serif}>(e)</text>
      <text x={490} y={598} {...serif}>(f)</text>

      {[65, 499].map((x) => (
        <text key={'ly' + x} x={x} y={177} transform={`rotate(-90 ${x} 177)`} textAnchor="middle"
          dominantBaseline="central" fontSize={25} {...bold}>
          log i(q)
        </text>
      ))}
      {[279, 714].map((x) => (
        <text key={'lx' + x} x={x} y={369} textAnchor="middle" fontSize={26} {...bold}>
          q (nm<tspan dy={-10} fontSize={16}>-1</tspan>
          <tspan dy={10}>)</tspan>
        </text>
      ))}
      {[66, 499].map((x) => (
        <text key={'py' + x} x={x} y={436} transform={`rotate(-90 ${x} 436)`} textAnchor="middle"
          dominantBaseline="central" fontSize={25} {...bold}>
          Normalized P(r)
        </text>
      ))}
      {[285, 721].map((x) => (
        <text key={'px' + x} x={x} y={618} textAnchor="middle" fontSize={26} {...bold}>
          r (nm)
        </text>
      ))}
      {[64, 498].map((x) => (
        <text key={'ky' + x} x={x} y={706} transform={`rotate(-90 ${x} 706)`} textAnchor="middle"
          dominantBaseline="central" fontSize={25} {...bold}>
          (qR<tspan dy={6} fontSize={17}>g</tspan>
          <tspan dy={-6}>)</tspan>
          <tspan dy={-10} fontSize={17}>2</tspan>
          <tspan dy={10}>I(q)/I(0)</tspan>
        </text>
      ))}
      {[291, 726].map((x) => (
        <text key={'kx' + x} x={x} y={890} textAnchor="middle" fontSize={25} {...bold}>
          qR<tspan dy={6} fontSize={17}>g</tspan>
        </text>
      ))}

      {SERIES_NAMES.map((name, i) => (
        <g key={name}>
          <line x1={legendStarts[i]} x2={legendStarts[i] + 23} y1={919} y2={919}
            stroke={SERIES_COLORS[i]} strokeWidth={1.5} />
          <text x={legendStarts[i] + 36} y={927} fontSize={25} fontFamily={SANS} fill="#222">
            {name}
          </text>
        </g>
      ))}
    </svg>
  );
}

export default function App() {
  return (
    <div style={{ position: 'absolute', left: 0, top: 0, width: 922, height: 933, background: '#fff', overflow: 'hidden' }}>
      <Panel
        left={0} top={0} width={461} height={330}
        margin={{ top: 77, right: 25, bottom: 10, left: 58 }}
        data={rowsA} xDomain={[0, 3]} yDomain={[-5, -0.5]}
        xTicks={[0, 1, 2, 3]} yTicks={[-5, -4, -3, -2, -1]}
        xFmt={fmtInt} yFmt={fmtInt} xFont={21} yFont={21}
        xTick={[7, 4]} yTick={[8, 6]} xAxisW={2.5} yAxisW={2.5}
        curve="linear" series={logSeries} spikes={spikesA}
      >
        <ReferenceLine segment={[{ x: 1.31, y: -1.58 }, { x: 1.04, y: -2.38 }]} shape={Arrow} />
      </Panel>
      <Panel
        left={461} top={0} width={461} height={330}
        margin={{ top: 77, right: 52, bottom: 10, left: 30 }}
        data={rowsB} xDomain={[0, 3]} yDomain={[-5, -0.5]}
        xTicks={[0, 1, 2, 3]} yTicks={[-5, -4, -3, -2, -1]}
        xFmt={fmtInt} yFmt={fmtInt} xFont={21} yFont={21}
        xTick={[7, 4]} yTick={[8, 6]} xAxisW={2.5} yAxisW={2.5}
        curve="linear" series={logSeries} spikes={spikesB}
      >
        <ReferenceLine segment={[{ x: 1.31, y: -1.56 }, { x: 1.04, y: -2.38 }]} shape={Arrow} />
      </Panel>
      <Panel
        left={0} top={330} width={461} height={260}
        margin={{ top: 10, right: 21, bottom: 14, left: 71 }}
        data={rowsC} xDomain={[0, 30]} yDomain={[0, 1.2]}
        xTicks={[0, 10, 20, 30]} yTicks={[0, 0.5, 1]}
        xFmt={fmtInt} yFmt={fmtOne} xFont={23} yFont={27}
        xTick={[6, 12]} yTick={[6, 2]} xAxisW={2.2} yAxisW={2}
        curve="monotone" series={prSeriesC}
      />
      <Panel
        left={461} top={330} width={461} height={260}
        margin={{ top: 10, right: 47, bottom: 14, left: 45 }}
        data={rowsD} xDomain={[0, 30]} yDomain={[0, 1.2]}
        xTicks={[0, 10, 20, 30]} yTicks={[0, 0.5, 1]}
        xFmt={fmtInt} yFmt={fmtOne} xFont={23} yFont={27}
        xTick={[6, 12]} yTick={[6, 2]} xAxisW={2.2} yAxisW={2}
        curve="monotone" series={prSeriesD}
      />
      <Panel
        left={0} top={590} width={461} height={300}
        margin={{ top: 19, right: 18, bottom: 44, left: 75 }}
        data={rowsE} xDomain={[0, 10]} yDomain={[0, 2]}
        xTicks={[1.73]} yTicks={[0, 1.1]}
        xFmt={fmtKrX} yFmt={fmtKrY} xFont={25} yFont={25}
        xTick={[8, 12]} yTick={[9, 3]} xAxisW={2.2} yAxisW={1.5}
        curve="linear" series={krSeries}
      >
        <ReferenceLine y={1.1} {...dashRef} />
        <ReferenceLine x={1.73} {...dashRef} />
      </Panel>
      <Panel
        left={461} top={590} width={461} height={300}
        margin={{ top: 19, right: 46, bottom: 44, left: 46 }}
        data={rowsF} xDomain={[0, 10]} yDomain={[0, 2]}
        xTicks={[1.73]} yTicks={[0, 1.1]}
        xFmt={fmtKrX} yFmt={fmtKrY} xFont={25} yFont={25}
        xTick={[8, 12]} yTick={[9, 3]} xAxisW={2.2} yAxisW={1.5}
        curve="linear" series={krSeries}
      >
        <ReferenceLine y={1.1} {...dashRef} />
        <ReferenceLine x={1.73} {...dashRef} />
      </Panel>
      <Labels />
    </div>
  );
}
